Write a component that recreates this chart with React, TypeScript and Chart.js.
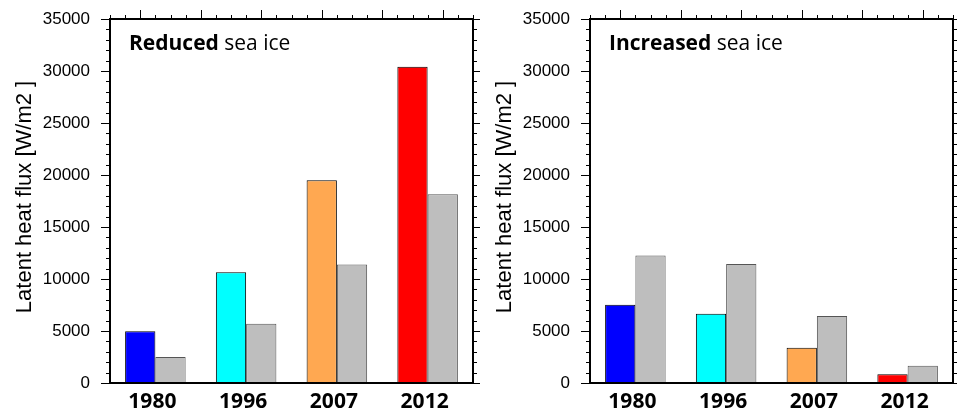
import React, { useEffect, useRef } from 'react';
import { Chart, registerables } from 'chart.js';

Chart.register(...registerables);

const years = ['1980', '1996', '2007', '2012'];
const reducedColored = [4980, 10650, 19500, 30400];
const reducedGrey = [2500, 5700, 11400, 18150];
const increasedColored = [7530, 6650, 3400, 850];
const increasedGrey = [12250, 11450, 6450, 1650];
const barColors = ['#0000FF', '#00FFFF', '#FFA851', '#FF0000'];
const greyColor = '#BEBEBE';
const yMin = 0;
const yMax = 35000;
const yStep = 5000;
const yMinorStep = 1000;
const yTitle = 'Latent heat flux [W/m2 ]';

type PanelProps = {
  colored: number[];
  grey: number[];
  bold: string;
  rest: string;
  width: number;
  rightPad: number;
};

function makeFramePlugin(bold: string, rest: string) {
  return {
    id: 'frameDeco',
    afterDraw(chart: any) {
      const { ctx, chartArea: a } = chart;
      const ys = chart.scales.y;
      ctx.save();
      ctx.strokeStyle = '#000';
      ctx.lineWidth = 1;
      const line = (x1: number, y1: number, x2: number, y2: number) => {
        ctx.beginPath();
        ctx.moveTo(x1, y1);
        ctx.lineTo(x2, y2);
        ctx.stroke();
      };
      for (let v = yMin; v <= yMax; v += yMinorStep) {
        const py = Math.round(ys.getPixelForValue(v)) + 0.5;
        const len = v % yStep === 0 ? 9 : 4;
        line(a.left - len, py, a.left, py);
        line(a.right, py, a.right + len, py);
      }
      const w = a.right - a.left;
      for (let i = 0; i <= 24; i++) {
        const px = Math.round(a.left + (i * w) / 24) + 0.5;
        const len = i % 4 === 2 ? 9 : 4;
        line(px, a.top - len, px, a.top);
      }
      ctx.lineWidth = 2;
      ctx.strokeRect(a.left, a.top, a.right - a.left, a.bottom - a.top);

      ctx.fillStyle = '#000';
      ctx.textBaseline = 'alphabetic';
      ctx.textAlign = 'left';
      ctx.font = 'bold 21px "Open Sans"';
      const tx = a.left + 19;
      const ty = a.top + 31;
      ctx.fillText(bold, tx, ty);
      const bw = ctx.measureText(bold).width;
      ctx.font = '21px "Open Sans"';
      const sw = ctx.measureText(' ').width;
      ctx.fillText(rest, tx + bw + sw, ty);

      ctx.translate(25, (a.top + a.bottom) / 2 - 4);
      ctx.rotate(-Math.PI / 2);
      ctx.textAlign = 'center';
      ctx.textBaseline = 'middle';
      ctx.font = '22px "Liberation Sans"';
      ctx.fillText(yTitle, 0, 0);
      ctx.restore();
    },
  };
}

function Panel({ colored, grey, bold, rest, width, rightPad }: PanelProps) {
  const ref = useRef<HTMLCanvasElement>(null);
  useEffect(() => {
    if (!ref.current) return;
    const chart = new Chart(ref.current, {
      type: 'bar',
      data: {
        labels: years,
        datasets: [
          {
            data: colored,
            backgroundColor: barColors,
            borderColor: '#000',
            borderWidth: 1,
            categoryPercentage: 0.667,
            barPercentage: 1,
          },
          {
            data: grey,
            backgroundColor: greyColor,
            borderColor: '#555',
            borderWidth: 1,
            categoryPercentage: 0.667,
            barPercentage: 1,
          },
        ],
      },
      options: {
        responsive: false,
        animation: false,
        layout: { padding: { left: 0, right: rightPad, top: 19, bottom: 0 } },
        plugins: { legend: { display: false }, tooltip: { enabled: false }, title: { display: false } },
        scales: {
          x: {
            grid: { display: false, drawTicks: false },
            border: { display: false },
            ticks: {
              color: '#000',
              padding: 6,
              labelOffset: -3,
              font: { family: '"Open Sans"', weight: 'bold', size: 21 },
            },
            afterFit: (s: any) => {
              s.height = 29;
              s.paddingLeft = 0;
              s.paddingRight = 0;
            },
          },
          y: {
            min: yMin,
            max: yMax,
            grid: { display: false, drawTicks: false },
            border: { display: false },
            ticks: {
              stepSize: yStep,
              color: '#000',
              padding: 20,
              font: { family: '"Liberation Sans"', size: 17 },
              callback: (v: any) => String(v),
            },
            afterFit: (s: any) => {
              s.width = 110;
              s.paddingTop = 0;
              s.paddingBottom = 0;
            },
          },
        },
      } as any,
      plugins: [makeFramePlugin(bold, rest)],
    });
    if ((document as any).fonts && (document as any).fonts.ready) {
      (document as any).fonts.ready.then(() => {
        try { chart.update(); } catch (e) {}
      });
    }
    return () => chart.destroy();
  }, []);
  return <canvas ref={ref} width={width} height={412} style={{ display: 'block', width, height: 412 }} />;
}

export default function App() {
  return (
    <div style={{ position: 'absolute', left: 0, top: 0, width: 957, height: 412, background: '#fff' }}>
      <div style={{ position: 'absolute', left: 0, top: 0 }}>
        <Panel colored={reducedColored} grey={reducedGrey} bold="Reduced" rest="sea ice" width={480} rightPad={7} />
      </div>
      <div style={{ position: 'absolute', left: 480, top: 0 }}>
        <Panel colored={increasedColored} grey={increasedGrey} bold="Increased" rest="sea ice" width={477} rightPad={4} />
      </div>
    </div>
  );
}
